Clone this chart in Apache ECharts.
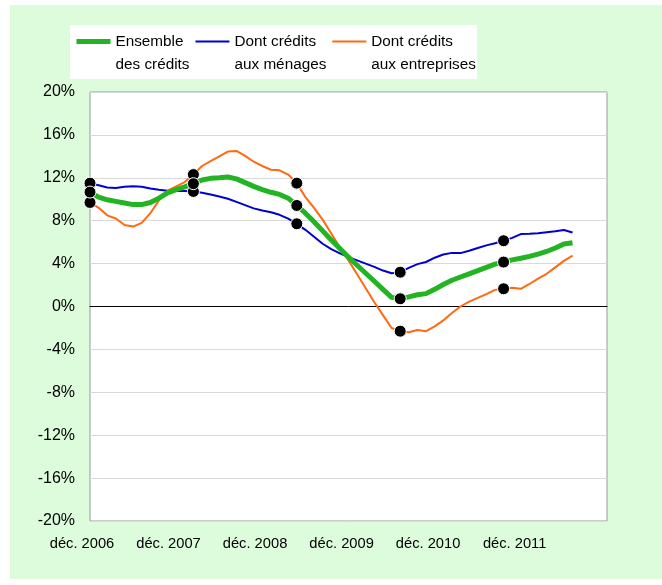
<!DOCTYPE html>
<html><head><meta charset="utf-8">
<script src="https://cdn.jsdelivr.net/npm/echarts@6/dist/echarts.min.js"></script>
<style>
html,body{margin:0;padding:0;background:#fff;}
#bg{position:absolute;left:10px;top:5px;width:652px;height:574px;background:#dcfcdc;}
#chart{position:absolute;left:0;top:0;width:662px;height:585px;}
</style></head><body>
<div id="bg"></div><div id="chart"></div>
<script>
// Tick labels (year axis)
const yearLabels = ['déc. 2006','déc. 2007','déc. 2008','déc. 2009','déc. 2010','déc. 2011'];
// Series names and their two-line legend labels
const seriesNames = ['Ensemble des crédits','Dont crédits aux ménages','Dont crédits aux entreprises'];
const legendLabels = {
  'Ensemble des crédits': 'Ensemble\ndes crédits',
  'Dont crédits aux ménages': 'Dont crédits\naux ménages',
  'Dont crédits aux entreprises': 'Dont crédits\naux entreprises'
};
// Monthly growth rates (%), déc. 2006 → août 2011
const ensemble = [
  10.67, 10.2, 9.95, 9.8, 9.65, 9.5, 9.5, 9.7, 10.1, 10.6, 10.9, 11.15,
  11.45, 11.8, 11.95, 12.0, 12.07, 11.9, 11.55, 11.2, 10.9, 10.65, 10.45, 10.1,
  9.42, 8.7, 7.9, 7.05, 6.2, 5.4, 4.6, 3.85, 3.1, 2.35, 1.6, 0.85,
  0.72, 0.9, 1.1, 1.2, 1.6, 2.05, 2.45, 2.75, 3.05, 3.35, 3.65, 3.95,
  4.14, 4.35, 4.5, 4.67, 4.88, 5.13, 5.45, 5.82, 5.95
];
const menages = [
  11.5, 11.3, 11.1, 11.05, 11.17, 11.22, 11.17, 11.0, 10.88, 10.79, 10.78, 10.78,
  10.73, 10.6, 10.45, 10.25, 10.05, 9.75, 9.45, 9.15, 8.95, 8.78, 8.55, 8.2,
  7.71, 7.15, 6.5, 5.85, 5.35, 4.95, 4.6, 4.3, 4.0, 3.7, 3.35, 3.1,
  3.2, 3.6, 3.95, 4.15, 4.55, 4.85, 5.0, 4.98, 5.2, 5.45, 5.7, 5.9,
  6.13, 6.4, 6.75, 6.78, 6.82, 6.92, 7.02, 7.13, 6.9
];
const entreprises = [
  9.7, 9.2, 8.5, 8.2, 7.6, 7.45, 7.8, 8.7, 9.9, 10.8, 11.2, 11.6,
  12.3, 13.1, 13.55, 14.0, 14.45, 14.5, 14.05, 13.5, 13.1, 12.75, 12.7, 12.3,
  11.5, 10.2, 9.2, 8.1, 6.8, 5.5, 4.3, 3.0, 1.7, 0.4, -0.8, -2.0,
  -2.3, -2.4, -2.2, -2.3, -1.85, -1.3, -0.6, 0.0, 0.45, 0.8, 1.15, 1.55,
  1.65, 1.75, 1.65, 2.1, 2.6, 3.05, 3.65, 4.25, 4.75
];
const monthNames = ['janv.','févr.','mars','avr.','mai','juin','juil.','août','sept.','oct.','nov.','déc.'];
const months = [];
for (let i = 0; i < 61; i++) {
  const k = 11 + i;
  months.push(monthNames[k % 12] + ' ' + (2006 + Math.floor(k / 12)));
}

const FONT = 'Liberation Sans, Arial, sans-serif';
function mk(name, data, color, width, z) {
  return {
    name, type: 'line', data, xAxisIndex: 0, yAxisIndex: 0,
    symbol: 'circle', showSymbol: true, showAllSymbol: true,
    symbolSize: (v, p) => (p.dataIndex % 12 === 0 ? 12 : 0),
    itemStyle: { color: '#000', borderColor: '#fff', borderWidth: 1 },
    lineStyle: { color, width },
    emphasis: { disabled: true },
    z
  };
}

const chart = echarts.init(document.getElementById('chart'), null, { renderer: 'canvas' });
chart.setOption({
  animation: false,
  backgroundColor: 'transparent',
  graphic: [{
    type: 'rect', left: 70, top: 25, z: 1,
    shape: { width: 407, height: 54 }, style: { fill: '#fff' }
  }],
  legend: {
    left: 74, top: 7, padding: 0,
    itemWidth: 34, itemHeight: 10, itemGap: 5,
    selectedMode: false,
    itemStyle: { opacity: 0 },
    data: [
      { name: seriesNames[0], lineStyle: { width: 5 } },
      { name: seriesNames[1], lineStyle: { width: 2 } },
      { name: seriesNames[2], lineStyle: { width: 2 } }
    ],
    formatter: n => '\n' + legendLabels[n],
    textStyle: { fontSize: 15.3, color: '#000', lineHeight: 23, fontFamily: FONT }
  },
  grid: [
    { left: 90, top: 92, width: 517, height: 429, show: true, backgroundColor: '#fff', borderColor: '#999', borderWidth: 1 },
    { left: 82, top: 92, width: 432.6, height: 429, show: false }
  ],
  xAxis: [
    { type: 'category', gridIndex: 0, data: months, boundaryGap: false,
      axisLine: { show: true, onZero: true, lineStyle: { color: '#000', width: 1 } },
      axisTick: { show: false }, axisLabel: { show: false }, splitLine: { show: false } },
    { type: 'category', gridIndex: 1, data: yearLabels, boundaryGap: false,
      axisLine: { show: false }, axisTick: { show: false }, splitLine: { show: false },
      axisLabel: { interval: 0, fontSize: 14.7, color: '#000', margin: 15, fontFamily: FONT } }
  ],
  yAxis: [
    { type: 'value', gridIndex: 0, min: -20, max: 20, interval: 4,
      axisLine: { show: false }, axisTick: { show: false },
      axisLabel: { formatter: '{value}%', fontSize: 16, color: '#000', margin: 15, fontFamily: FONT },
      splitLine: { lineStyle: { color: '#d9d9d9', width: 1 } } },
    { type: 'value', gridIndex: 1, show: false, min: 0, max: 1 }
  ],
  series: [
    mk(seriesNames[1], menages, '#0000d0', 2, 3),
    mk(seriesNames[2], entreprises, '#ff6a10', 2, 3),
    mk(seriesNames[0], ensemble, '#22b422', 5, 4)
  ]
});
</script>
</body></html>
